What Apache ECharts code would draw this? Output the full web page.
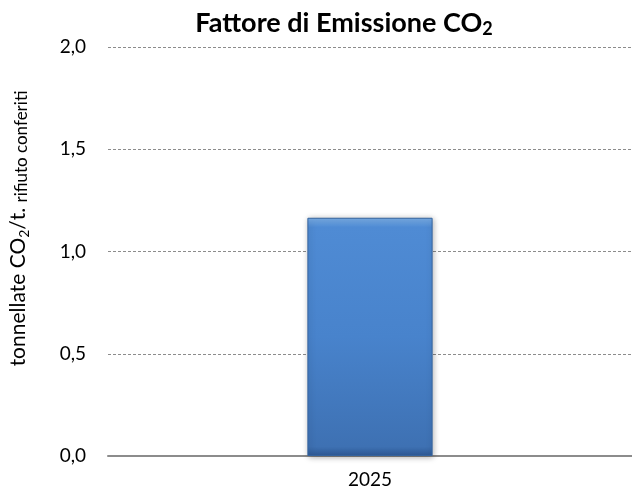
<!DOCTYPE html>
<html><head><meta charset="utf-8">
<script src="https://cdn.jsdelivr.net/npm/echarts@6/dist/echarts.min.js"></script>
<style>html,body{margin:0;padding:0;background:#fff}#c{width:632px;height:500px}</style>
</head><body><div id="c"></div>
<script>
const categories = ['2025'];
const values = [1.165];
const yTicks = [0, 0.5, 1.0, 1.5, 2.0];

const chart = echarts.init(document.getElementById('c'));
const font = 'Lato, "Open Sans", sans-serif';
chart.setOption({
  animation: false,
  title: {
    text: '{main|Fattore di Emissione CO}{sub|2}',
    left: 339, textAlign: 'center', top: 3,
    textStyle: {
      fontFamily: font, fontWeight: 'bold', fontSize: 27, color: '#000',
      rich: {
        main: { fontFamily: font, fontWeight: 'bold', fontSize: 27, color: '#000' },
        sub: { fontFamily: font, fontWeight: 'bold', fontSize: 18, color: '#000', padding: [12, 0, 0, 0] }
      }
    }
  },
  grid: { left: 104, right: -3, top: 47, bottom: 44 },
  xAxis: {
    type: 'category', data: categories,
    axisLine: { lineStyle: { color: '#8c8c8c', width: 2 } },
    axisTick: { show: false },
    axisLabel: { fontFamily: font, fontSize: 19, color: '#000', margin: 14 }
  },
  yAxis: {
    type: 'value', min: yTicks[0], max: yTicks[yTicks.length - 1], interval: 0.5,
    name: '{lead|tonnellate CO}{sub|2}{main|/t. }{small|rifiuto conferiti}',
    nameLocation: 'middle', nameGap: 77,
    nameTextStyle: {
      fontFamily: font, fontSize: 21, color: '#000',
      rich: {
        lead: { fontFamily: font, fontSize: 21, color: '#000', padding: [0, 0, 0, 46] },
        main: { fontFamily: font, fontSize: 21, color: '#000' },
        sub: { fontFamily: font, fontSize: 14, color: '#000', padding: [11, 0, 0, 0] },
        small: { fontFamily: font, fontSize: 17, color: '#000', padding: [6, 0, 0, 0] }
      }
    },
    axisLine: { show: false }, axisTick: { show: false },
    axisLabel: {
      fontFamily: font, fontSize: 19, color: '#000', margin: 22,
      formatter: v => v.toFixed(1).replace('.', ',')
    },
    splitLine: { lineStyle: { color: '#8c8c8c', type: [3, 2], width: 1 } }
  },
  series: [{
    type: 'bar', data: values, barWidth: '23.9%',
    itemStyle: {
      color: new echarts.graphic.LinearGradient(0, 0, 0, 1, [
        { offset: 0, color: '#7aaee6' },
        { offset: 0.04, color: '#4f8bd4' },
        { offset: 0.5, color: '#4883cc' },
        { offset: 0.96, color: '#3e71b3' },
        { offset: 1, color: '#2f5a96' }
      ]),
      borderColor: '#35649f', borderWidth: 1,
      shadowColor: 'rgba(0,0,0,0.3)', shadowBlur: 6, shadowOffsetX: 1, shadowOffsetY: 1
    }
  }]
});
</script></body></html>
